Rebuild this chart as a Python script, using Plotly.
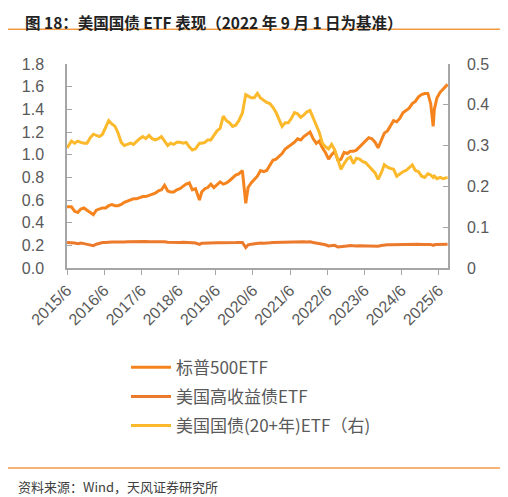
import plotly.graph_objects as go

# 日期(月度, 另加几个关键日期)
dates = [
    "2015-06-01", "2015-07-15", "2015-08-15", "2015-09-15", "2015-10-15", "2015-11-15", "2015-12-15",
    "2016-01-15", "2016-02-15", "2016-03-15", "2016-04-15", "2016-05-15", "2016-06-15",
    "2016-07-15", "2016-08-15", "2016-09-15", "2016-10-15", "2016-11-15", "2016-12-15",
    "2017-01-15", "2017-02-15", "2017-03-15", "2017-04-15", "2017-05-15", "2017-06-15",
    "2017-07-15", "2017-08-15", "2017-09-15", "2017-10-15", "2017-11-15", "2017-12-15",
    "2018-01-15", "2018-02-15", "2018-03-15", "2018-04-15", "2018-05-15", "2018-06-15",
    "2018-07-15", "2018-08-15", "2018-09-15", "2018-10-15", "2018-11-15", "2018-12-24",
    "2019-01-15", "2019-02-15", "2019-03-15", "2019-04-15", "2019-05-15", "2019-06-15",
    "2019-07-15", "2019-08-15", "2019-09-15", "2019-10-15", "2019-11-15", "2019-12-15",
    "2020-01-15", "2020-02-19", "2020-03-23", "2020-04-15", "2020-05-15", "2020-06-15",
    "2020-07-15", "2020-08-15", "2020-09-15", "2020-10-15", "2020-11-15", "2020-12-15",
    "2021-01-15", "2021-02-15", "2021-03-15", "2021-04-15", "2021-05-15", "2021-06-15",
    "2021-07-15", "2021-08-15", "2021-09-15", "2021-10-15", "2021-11-15", "2021-12-15",
    "2022-01-15", "2022-02-15", "2022-03-15", "2022-04-15", "2022-05-15", "2022-06-15",
    "2022-07-15", "2022-08-15", "2022-09-15", "2022-10-15", "2022-11-15", "2022-12-15",
    "2023-01-15", "2023-02-15", "2023-03-15", "2023-04-15", "2023-05-15", "2023-06-15",
    "2023-07-15", "2023-08-15", "2023-09-15", "2023-10-15", "2023-11-15", "2023-12-15",
    "2024-01-15", "2024-02-15", "2024-03-15", "2024-04-15", "2024-05-15", "2024-06-15",
    "2024-07-15", "2024-08-15", "2024-09-15", "2024-10-15", "2024-11-15", "2024-12-15",
    "2025-01-15", "2025-02-15", "2025-03-15", "2025-04-08", "2025-04-20", "2025-05-15",
    "2025-06-15", "2025-07-15", "2025-08-28",
]

# 标普500ETF (左轴)
spx = [
    0.54, 0.54, 0.50, 0.49, 0.52, 0.53, 0.51,
    0.49, 0.47, 0.51, 0.52, 0.53, 0.53,
    0.55, 0.56, 0.55, 0.55, 0.56, 0.58,
    0.59, 0.60, 0.61, 0.61, 0.62, 0.63,
    0.63, 0.64, 0.65, 0.66, 0.68, 0.69,
    0.73, 0.68, 0.67, 0.67, 0.69, 0.70,
    0.72, 0.74, 0.75, 0.69, 0.70, 0.60,
    0.67, 0.70, 0.71, 0.74, 0.71, 0.74,
    0.76, 0.74, 0.75, 0.77, 0.80, 0.82,
    0.83, 0.86, 0.57, 0.71, 0.75, 0.78,
    0.81, 0.86, 0.85, 0.86, 0.91, 0.95,
    0.96, 0.99, 1.01, 1.05, 1.07, 1.09,
    1.11, 1.14, 1.13, 1.16, 1.18, 1.20,
    1.14, 1.10, 1.12, 1.06, 1.02, 0.96,
    1.00, 1.03, 0.95, 0.96, 1.02, 1.01,
    1.03, 1.03, 1.04, 1.07, 1.09, 1.12,
    1.15, 1.14, 1.11, 1.06, 1.13, 1.19,
    1.21, 1.26, 1.30, 1.29, 1.32, 1.37,
    1.39, 1.41, 1.45, 1.47, 1.51, 1.53,
    1.54, 1.54, 1.45, 1.25, 1.40, 1.50,
    1.55, 1.58, 1.62,
]

# 美国高收益债ETF (左轴)
hy = [
    0.225, 0.225, 0.220, 0.215, 0.220, 0.215, 0.210,
    0.200, 0.197, 0.210, 0.220, 0.225, 0.225,
    0.230, 0.230, 0.230, 0.230, 0.225, 0.230,
    0.232, 0.233, 0.232, 0.232, 0.233, 0.233,
    0.233, 0.232, 0.233, 0.233, 0.232, 0.232,
    0.232, 0.228, 0.226, 0.226, 0.225, 0.225,
    0.228, 0.228, 0.228, 0.222, 0.220, 0.208,
    0.218, 0.220, 0.222, 0.224, 0.220, 0.222,
    0.223, 0.222, 0.222, 0.222, 0.223, 0.224,
    0.225, 0.225, 0.180, 0.205, 0.210, 0.215,
    0.218, 0.220, 0.218, 0.218, 0.222, 0.225,
    0.226, 0.228, 0.228, 0.230, 0.230, 0.232,
    0.232, 0.233, 0.232, 0.232, 0.230, 0.232,
    0.225, 0.220, 0.220, 0.210, 0.205, 0.195,
    0.200, 0.200, 0.185, 0.190, 0.195, 0.195,
    0.198, 0.195, 0.195, 0.196, 0.195, 0.197,
    0.198, 0.197, 0.195, 0.192, 0.198, 0.205,
    0.206, 0.206, 0.207, 0.205, 0.206, 0.207,
    0.208, 0.209, 0.210, 0.208, 0.209, 0.208,
    0.209, 0.210, 0.208, 0.200, 0.205, 0.208,
    0.209, 0.209, 0.210,
]

# 美国国债(20+年)ETF (右轴)
tlt = [
    0.294, 0.311, 0.306, 0.311, 0.308, 0.306, 0.306,
    0.319, 0.328, 0.325, 0.322, 0.328, 0.347,
    0.361, 0.353, 0.347, 0.331, 0.308, 0.300,
    0.303, 0.306, 0.303, 0.311, 0.317, 0.322,
    0.317, 0.325, 0.317, 0.314, 0.317, 0.322,
    0.311, 0.300, 0.306, 0.303, 0.308, 0.308,
    0.306, 0.308, 0.297, 0.289, 0.292, 0.306,
    0.306, 0.308, 0.314, 0.314, 0.325, 0.336,
    0.342, 0.372, 0.361, 0.356, 0.347, 0.350,
    0.361, 0.380, 0.425, 0.422, 0.417, 0.417,
    0.428, 0.417, 0.411, 0.406, 0.403, 0.394,
    0.381, 0.361, 0.347, 0.356, 0.356, 0.367,
    0.381, 0.378, 0.369, 0.375, 0.383, 0.386,
    0.367, 0.350, 0.333, 0.306, 0.297, 0.292,
    0.303, 0.289, 0.264, 0.242, 0.256, 0.267,
    0.272, 0.256, 0.269, 0.267, 0.261, 0.258,
    0.250, 0.242, 0.233, 0.217, 0.233, 0.253,
    0.247, 0.244, 0.242, 0.225, 0.231, 0.236,
    0.239, 0.247, 0.253, 0.239, 0.236, 0.225,
    0.222, 0.231, 0.228, 0.222, 0.225, 0.219,
    0.222, 0.219, 0.222,
]

tick_dates = ["2015-06-01", "2016-06-01", "2017-06-01", "2018-06-01", "2019-06-01", "2020-06-01",
              "2021-06-01", "2022-06-01", "2023-06-01", "2024-06-01", "2025-06-01"]
tick_labels = ["2015/6", "2016/6", "2017/6", "2018/6", "2019/6", "2020/6",
               "2021/6", "2022/6", "2023/6", "2024/6", "2025/6"]

axis_gray = "#A6A6A6"
txt_gray = "#595959"
font_cn = "Noto Sans CJK SC"

fig = go.Figure()
fig.add_trace(go.Scatter(x=dates, y=spx, name="标普500ETF", mode="lines",
                         line=dict(color="#F5841F", width=3), legendgroup="a"))
fig.add_trace(go.Scatter(x=dates, y=hy, name="美国高收益债ETF", mode="lines",
                         line=dict(color="#EC7A2C", width=3), legendgroup="b"))
fig.add_trace(go.Scatter(x=dates, y=tlt, name="美国国债(20+年)ETF（右)", mode="lines",
                         line=dict(color="#FBB92B", width=3), legendgroup="c", yaxis="y2"))

# 页面 body 默认有 8px 边距, 所以图比窗口小 8px
fig.update_layout(
    width=500, height=489,
    margin=dict(l=59, r=60, t=56, b=229, autoexpand=False),
    plot_bgcolor="white", paper_bgcolor="white",
    font=dict(family=font_cn, color=txt_gray),
    showlegend=True,
    legend=dict(
        xref="container", yref="container", x=0.236, y=0.301,
        xanchor="left", yanchor="top",
        font=dict(size=17, color=txt_gray, family=font_cn),
        tracegroupgap=4, itemwidth=40,
    ),
    xaxis=dict(
        type="date", range=["2015-06-01", "2025-09-01"],
        tickvals=tick_dates, ticktext=tick_labels, tickangle=-45,
        ticks="outside", ticklen=5, tickcolor=axis_gray,
        showline=True, linecolor=axis_gray, linewidth=1.5,
        showgrid=False, zeroline=False,
        tickfont=dict(size=16, color=txt_gray, family="Liberation Sans"),
    ),
    yaxis=dict(
        range=[0, 1.8], tickvals=[0, 0.2, 0.4, 0.6, 0.8, 1.0, 1.2, 1.4, 1.6, 1.8], tickformat=".1f",
        ticks="inside", ticklen=5, tickcolor=axis_gray, ticklabelstandoff=18,
        showline=True, linecolor=axis_gray, linewidth=1.5,
        showgrid=False, zeroline=False,
        tickfont=dict(size=16, color=txt_gray, family="Liberation Sans"),
    ),
    yaxis2=dict(
        overlaying="y", side="right", range=[0, 0.5],
        tickvals=[0, 0.1, 0.2, 0.3, 0.4, 0.5], ticktext=["0", "0.1", "0.2", "0.3", "0.4", "0.5"],
        ticks="inside", ticklen=5, tickcolor=axis_gray, ticklabelstandoff=14,
        showline=True, linecolor=axis_gray, linewidth=1.5,
        showgrid=False, zeroline=False,
        tickfont=dict(size=16, color=txt_gray, family="Liberation Sans"),
    ),
)

# 标题, 分隔线, 资料来源
fig.add_annotation(
    text="<b>图 18：美国国债 ETF 表现（2022 年 9 月 1 日为基准）</b>",
    xref="paper", yref="paper", x=-0.1155, y=1.272, xanchor="left", yanchor="top",
    showarrow=False, font=dict(size=15.5, color="#222222", family=font_cn),
)
fig.add_annotation(
    text="资料来源：Wind，天风证券研究所",
    xref="paper", yref="paper", x=-0.134, y=-1.069, xanchor="left", yanchor="middle",
    showarrow=False, font=dict(size=13, color="#404040", family=font_cn),
)
fig.add_shape(type="line", xref="paper", yref="paper", x0=-0.163, x1=1.142, y0=1.170, y1=1.170,
              line=dict(color="#F39A45", width=1.5))
fig.add_shape(type="line", xref="paper", yref="paper", x0=-0.163, x1=1.142, y0=-0.980, y1=-0.980,
              line=dict(color="#F39A45", width=1.5))

fig.write_html("out.html")
